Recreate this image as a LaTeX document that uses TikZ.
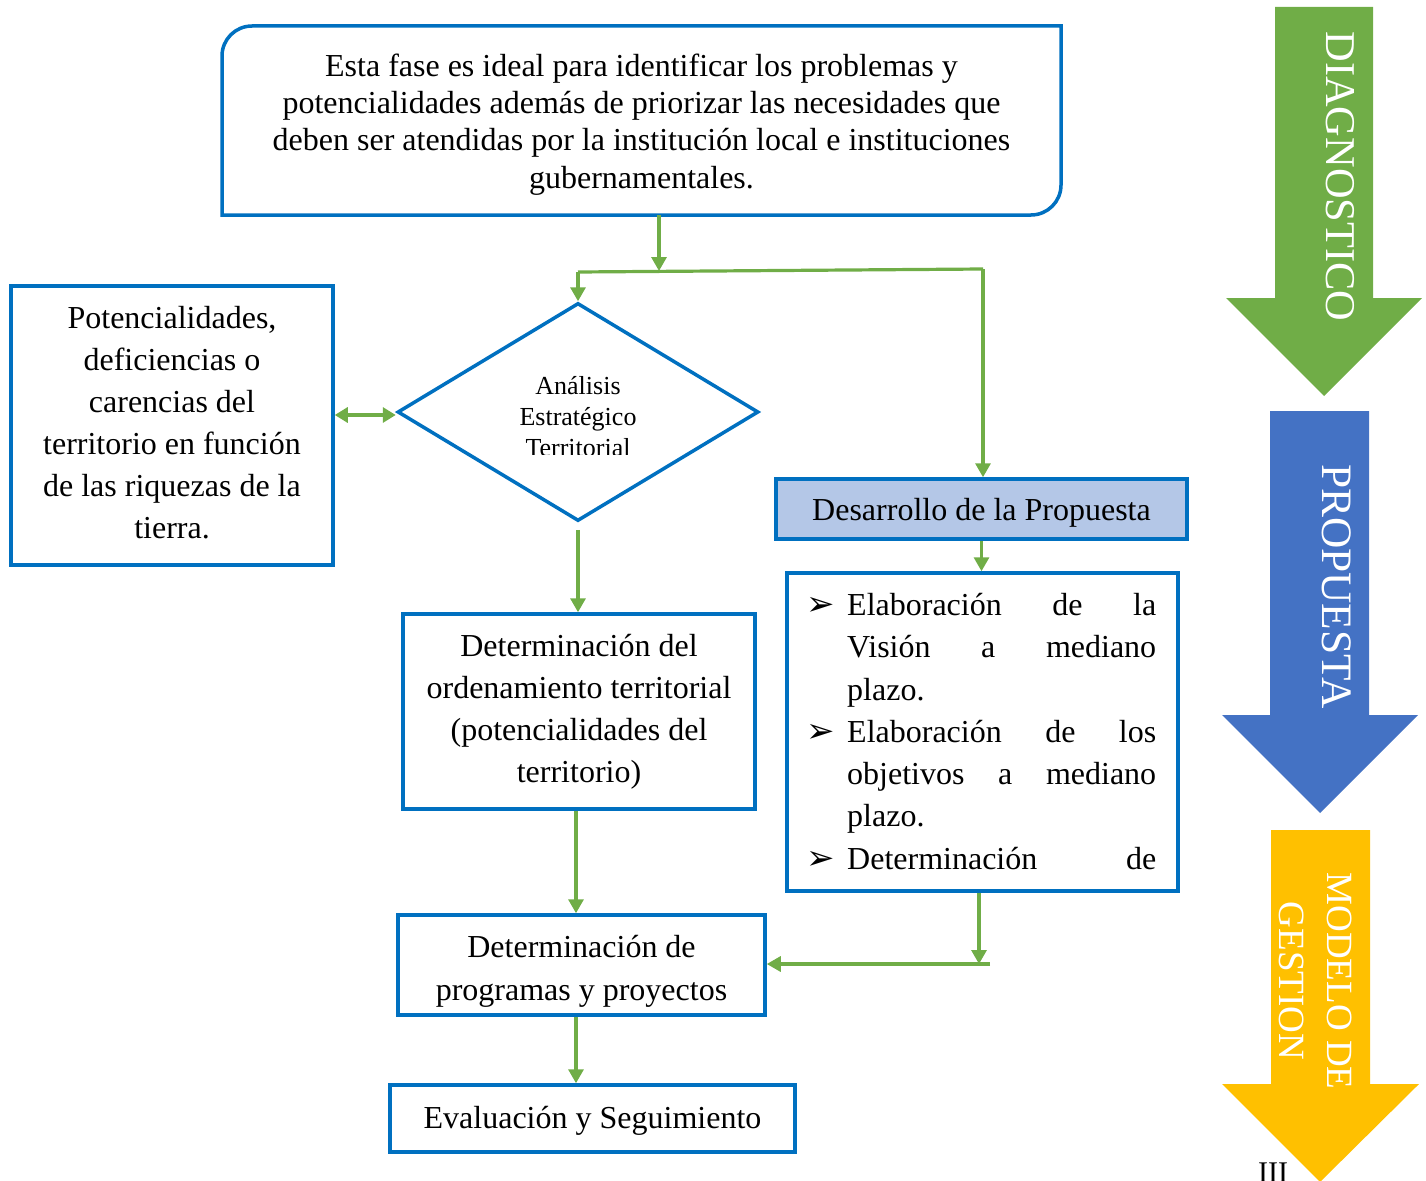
\documentclass[tikz,border=0pt]{standalone}
\usepackage{fontspec}
\setmainfont{Liberation Serif}
\newfontfamily\dejavu{DejaVu Sans}
\usetikzlibrary{arrows.meta,shapes.geometric}
\definecolor{bblue}{HTML}{0070C0}
\definecolor{agreen}{HTML}{70AD47}
\definecolor{ablue}{HTML}{4472C4}
\definecolor{ayellow}{HTML}{FFC000}
\definecolor{propfill}{HTML}{B4C7E7}
\tikzset{
 bbox/.style={draw=bblue, line width=3.5pt, inner sep=0pt},
 txt/.style={align=center, inner sep=0pt, font=\fontsize{32}{42}\selectfont},
 bline/.style={draw=bblue, line width=3.5pt},
 gline/.style={draw=agreen, line width=3.2pt},
 conn/.style={gline, -{Triangle[length=14pt,width=15pt]}},
 bconn/.style={gline, {Triangle[length=13pt,width=15pt]}-{Triangle[length=13pt,width=15pt]}},
 biglabel/.style={text=white, rotate=-90, align=center},
 listline/.style={anchor=base west, inner sep=0pt, font=\fontsize{32}{42}\selectfont},
 bullet/.style={anchor=base, inner sep=0pt, font=\dejavu\fontsize{34}{34}\selectfont},
 diatxt/.style={anchor=base, inner sep=0pt, font=\fontsize{26}{31}\selectfont},
}
\begin{document}
\begin{tikzpicture}[x=1pt,y=-1pt]
\useasboundingbox (0,0) rectangle (1426,1180);

% top box (rounded top-left and bottom-right corners)
\node[inner sep=0pt, outer sep=0pt, minimum width=839pt, minimum height=189pt] (top) at (641.5,120.5) {};
\draw[bline] (222,215) -- (222,56) .. controls (222,39.4) and (235.4,26) .. (252,26)
  -- (1061,26) -- (1061,185) .. controls (1061,201.6) and (1047.6,215) .. (1031,215) -- cycle;
\node[txt, font=\fontsize{32}{37.3}\selectfont] (toptext) at (641.5,124.5)
 {Esta fase es ideal para identificar los problemas y\\
  potencialidades además de priorizar las necesidades que\\
  deben ser atendidas por la institución local e instituciones\\
  gubernamentales.};

% left box
\node[bbox, minimum width=322pt, minimum height=279pt] (left) at (172,425.5) {};
\node[txt] (lefttext) at (172,422.5)
 {Potencialidades,\\ deficiencias o\\ carencias del\\ territorio en función\\ de las riquezas de la\\ tierra.};

% diamond
\node[diamond, draw=bblue, line width=3.5pt, minimum width=361pt, minimum height=218pt, inner sep=0pt] (dia) at (578,412) {};
\begin{scope}
\clip (400,300) rectangle (760,454);
\node[diatxt] (d1) at (578,394) {Análisis};
\node[diatxt] (d2) at (578,425) {Estratégico};
\node[diatxt] (d3) at (578,456) {Territorial};
\end{scope}

% ordenamiento
\node[bbox, minimum width=352pt, minimum height=195pt] (ord) at (579,711.5) {};
\node[txt] (ordtext) at (579,712)
 {Determinación del\\ ordenamiento territorial\\ (potencialidades del\\ territorio)};

% programas
\node[bbox, minimum width=367pt, minimum height=100pt] (prog) at (581.5,965) {};
\node[txt, font=\fontsize{32}{43}\selectfont] (progtext) at (581.5,971)
 {Determinación de\\ programas y proyectos};

% evaluacion
\node[bbox, minimum width=405pt, minimum height=67pt] (eval) at (592.5,1118.5) {};
\node[txt] (evaltext) at (592.5,1120.5) {Evaluación y Seguimiento};

% desarrollo
\node[bbox, fill=propfill, minimum width=411pt, minimum height=60pt] (des) at (981.5,509) {};
\node[txt] (destext) at (981.5,513) {Desarrollo de la Propuesta};

% list box
\node[bbox, minimum width=391pt, minimum height=318pt] (list) at (982.5,732) {};
\node[bullet] (b1) at (821,615) {➢};
\node[bullet] (b2) at (821,742) {➢};
\node[bullet] (b3) at (821,869) {➢};
\node[listline] (l1) at (847,615) {\makebox[309pt][s]{Elaboración de la}};
\node[listline] (l2) at (847,657) {\makebox[309pt][s]{Visión a mediano}};
\node[listline] (l3) at (847,700) {plazo.};
\node[listline] (l4) at (847,742) {\makebox[309pt][s]{Elaboración de los}};
\node[listline] (l5) at (847,784) {\makebox[309pt][s]{objetivos a mediano}};
\node[listline] (l6) at (847,826) {plazo.};
\node[listline] (l7) at (847,869) {\makebox[309pt][s]{Determinación de}};

% junction coordinates
\coordinate (jtop) at (659,271);
\coordinate (jl) at (578,272);
\coordinate (jr) at (983,269);
\coordinate (jb) at (979,964);
\coordinate (jbr) at (990,964);
\coordinate (jlr) at (333,415);

% connectors
\draw[conn] ([xshift=17.5pt]top.south) -- (jtop);
\draw[gline] (jl) -- (jr);
\draw[conn] (jl) -- (dia.north);
\draw[conn] (jr) -- (jr |- des.north);
\draw[bconn] (jlr -| left.east) -- (jlr -| dia.west);
\draw[conn] ([yshift=-7pt]dia.south) -- (ord.north -| dia.south);
\draw[conn] ([xshift=-3pt]ord.south) -- ([xshift=-3pt]ord.south |- prog.north);
\draw[conn] ([xshift=-5.5pt]prog.south) -- ([xshift=-5.5pt]prog.south |- eval.north);
\draw[conn] (des.south) -- (des.south |- list.north);
\draw[conn] (list.south -| jb) -- (jb);
\draw[conn] (jbr) -- (prog.east |- jbr);

% big arrows
\fill[agreen] (1275,7) -- (1373,7) -- (1373,298) -- (1422,298) -- (1324,396) -- (1226,298) -- (1275,298) -- cycle;
\node[biglabel, font=\fontsize{42.4}{42.4}\selectfont] (diag) at (1340,176.5) {DIAGNOSTICO};

\fill[ablue] (1270,411) -- (1369,411) -- (1369,715) -- (1418,715) -- (1320,813) -- (1222,715) -- (1270,715) -- cycle;
\node[biglabel, font=\fontsize{43.4}{43.4}\selectfont] (prop) at (1337,586.5) {PROPUESTA};

\fill[ayellow] (1271,830) -- (1370,830) -- (1370,1084) -- (1419,1084) -- (1320,1182) -- (1222,1084) -- (1271,1084) -- cycle;
\node[biglabel, font=\fontsize{37}{48}\selectfont] (mod) at (1316,981) {MODELO DE\\GESTION};

\node[anchor=base, inner sep=0pt, font=\fontsize{30}{30}\selectfont] (pg) at (1273,1182) {III};
\end{tikzpicture}
\end{document}
